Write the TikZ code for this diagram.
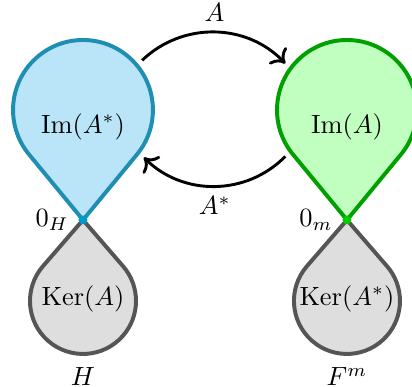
\documentclass[tikz,border=0pt]{standalone}
\usepackage{amsmath,amssymb}
\usepackage{tikz}
\usepackage{xcolor}
\usetikzlibrary{positioning,arrows.meta,calc}

\definecolor{imblue}{RGB}{30,142,178}
\definecolor{imbluefill}{RGB}{186,228,248}
\definecolor{dotblue}{RGB}{0,153,204}
\definecolor{imgreen}{RGB}{0,160,0}
\definecolor{imgreenfill}{RGB}{192,255,192}
\definecolor{dotgreen}{RGB}{0,204,0}
\definecolor{kergray}{RGB}{85,85,85}
\definecolor{kerfill}{RGB}{222,222,222}

\begin{document}
\begin{tikzpicture}[
  drop/.style={line width=1.5pt,line join=round},
  map/.style={line width=1.1pt,-{Computer Modern Rightarrow[length=1.6mm,width=3.2mm]}},
  ring/.style={circle,inner sep=0pt,outer sep=0pt,minimum size=2.06cm},
  zero/.style={circle,inner sep=0pt,minimum size=3.4pt}]
  \useasboundingbox (-1.107,-2.227) rectangle (4.387,2.933);
  % kernels (hanging below)
  \draw[drop,kergray,fill=kerfill] (0,0) -- ++(229.1:0.8165)
    arc (139.1:400.9:0.707) -- cycle;
  \draw[drop,kergray,fill=kerfill] (3.52,0) -- ++(229.1:0.8165)
    arc (139.1:400.9:0.707) -- cycle;
  % images
  \draw[drop,imblue,fill=imbluefill] (0,0) -- ++(129.5:1.132)
    arc (219.5:-39.5:0.933) -- cycle;
  \draw[drop,imgreen,fill=imgreenfill] (3.52,0) -- ++(129.5:1.132)
    arc (219.5:-39.5:0.933) -- cycle;
  \node[ring] (ringH) at (0,1.467) {};
  \node[ring] (ringF) at (3.52,1.467) {};
  \node (imAs) at (0,1.24) {$\operatorname{Im}(A^*)$};
  \node (imA) at (3.52,1.24) {$\operatorname{Im}(A)$};
  \node (kerA) at (0,-1.05) {$\operatorname{Ker}(A)$};
  \node (kerAs) at (3.52,-1.05) {$\operatorname{Ker}(A^*)$};
  \node[zero,fill=dotblue,label=left:$0_H$] (zeroH) at (0,0) {};
  \node[zero,fill=dotgreen,label=left:$0_m$] (zeroM) at (3.52,0) {};
  \node (spaceH) at (0,-2.09) {$H$};
  \node (spaceF) at (3.52,-2.09) {$F^m$};
  % maps
  \draw[map] (ringH.40) to[bend left=45] node[above] {$A$} (ringF.143);
  \draw[map] (ringF.217) to[bend left=45] node[below] {$A^*$} (ringH.-38);
\end{tikzpicture}
\end{document}
